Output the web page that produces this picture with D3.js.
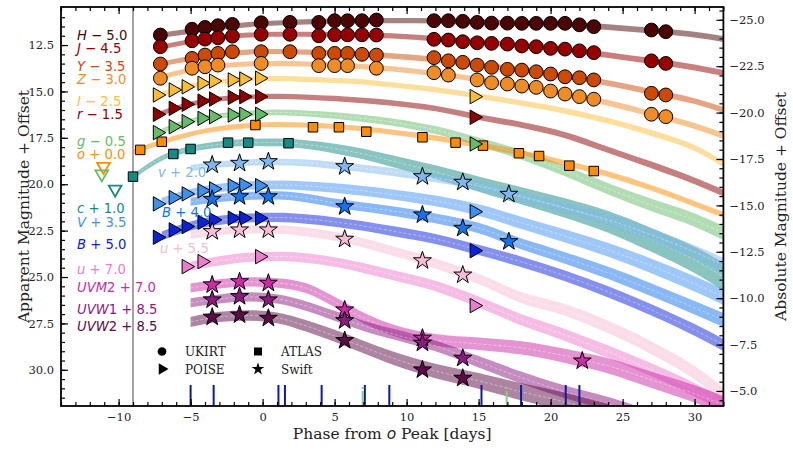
<!DOCTYPE html>
<html>
<head>
<meta charset="utf-8">
<script src="https://cdn.jsdelivr.net/npm/d3@7"></script>
<style>body{margin:0;background:#fff}</style>
</head>
<body>
<script>
// phases (days from o peak) and magnitudes + offset
var phaseGrid = [-9, -7, -5, -3, -1, 1, 3, 5, 7, 9, 12, 15, 18, 21, 24, 27, 30, 32];

var modelH = [null, 11.96, 11.75, 11.56, 11.40, 11.31, 11.25, 11.21, 11.19, 11.18, 11.20, 11.26, 11.33, 11.40, 11.53, 11.72, 11.94, 12.18];
var modelJ = [null, 12.61, 12.31, 12.10, 11.96, 11.92, 11.92, 11.94, 11.96, 12.01, 12.16, 12.34, 12.53, 12.74, 13.04, 13.36, 13.71, 14.01];
var modelY = [null, 13.52, 13.23, 13.01, 12.88, 12.85, 12.88, 12.92, 12.99, 13.09, 13.28, 13.55, 13.85, 14.17, 14.55, 15.03, 15.52, 16.00];
var modelZ = [null, 14.22, 13.85, 13.63, 13.52, 13.50, 13.52, 13.58, 13.66, 13.79, 14.04, 14.36, 14.71, 15.14, 15.62, 16.22, 16.86, 17.40];
var modelI = [null, 15.14, 14.71, 14.47, 14.33, 14.30, 14.35, 14.41, 14.49, 14.65, 14.90, 15.25, 15.62, 16.05, 16.59, 17.24, 18.05, 18.91];
var modelR = [null, 16.16, 15.68, 15.41, 15.30, 15.27, 15.30, 15.38, 15.49, 15.62, 15.92, 16.38, 16.81, 17.35, 18.15, 18.96, 19.82, 20.47];
var modelG = [null, 17.13, 16.59, 16.32, 16.19, 16.13, 16.19, 16.30, 16.46, 16.65, 17.08, 17.72, 18.42, 19.29, 20.25, 21.12, 21.93, 22.63];
var modelO = [18.26, 17.72, 17.29, 17.00, 16.84, 16.78, 16.81, 16.89, 17.02, 17.19, 17.51, 17.89, 18.32, 18.86, 19.45, 20.20, 21.06, 21.65];
var modelC = [19.61, 18.59, 18.10, 17.86, 17.75, 17.75, 17.86, 18.08, 18.37, 18.75, 19.34, 19.99, 20.63, 21.28, 22.03, 23.00, 24.08, 24.99];
var modelSv = [null, null, 19.12, 18.93, 18.83, 18.80, 18.85, 18.99, 19.15, 19.34, 19.66, 20.09, 20.69, 21.28, 21.92, 22.73, 23.65, 24.35];
var modelV = [null, 20.95, 20.47, 20.20, 20.07, 20.04, 20.09, 20.20, 20.36, 20.55, 20.90, 21.39, 22.09, 22.79, 23.54, 24.40, 25.37, 26.07];
var modelSb = [null, null, 20.95, 20.74, 20.63, 20.60, 20.74, 21.01, 21.23, 21.44, 21.84, 22.36, 23.22, 23.97, 24.78, 25.69, 26.66, 27.31];
var modelB = [null, 22.79, 22.25, 21.95, 21.82, 21.79, 21.87, 22.03, 22.25, 22.52, 22.95, 23.54, 24.19, 24.94, 25.80, 26.77, 27.85, 28.66];
var modelSu = [null, null, 22.73, 22.52, 22.44, 22.44, 22.57, 22.81, 23.16, 23.59, 24.27, 25.10, 26.12, 26.77, 27.69, 28.82, 30.16, 31.35];
var modelU = [null, null, 24.40, 24.13, 23.94, 23.89, 23.97, 24.19, 24.51, 24.89, 25.48, 26.34, 27.31, 28.12, 29.03, 30.00, 31.08, 31.89];
var modelM2 = [null, null, 25.59, 25.37, 25.26, 25.32, 25.59, 26.34, 27.20, 27.85, 28.39, 28.60, 28.82, 29.25, 29.79, 30.54, 31.30, 31.89];
var modelW1 = [null, null, 26.39, 26.18, 26.07, 26.18, 26.56, 27.09, 27.63, 28.06, 28.71, 29.57, 30.43, 31.19, 31.83, 32.59, null, null];
var modelW2 = [null, null, 27.42, 27.15, 27.07, 27.20, 27.63, 28.17, 28.77, 29.36, 30.06, 30.59, 31.19, 31.73, 32.37, null, null, null];

// UKIRT (circles)
var ukirtPhase = [-7.1, -4.9, -4.0, -3.1, -2.1, -0.1, 1.9, 3.9, 5.0, 5.9, 6.9, 7.9, 11.9, 12.9, 13.9, 14.9, 15.9, 17.0, 18.0, 19.0, 20.0, 21.0, 22.0, 23.0, 27.0, 28.0];
var ukirtH = [11.96, 11.65, 11.55, 11.46, 11.39, 11.30, 11.28, 11.28, 11.19, 11.19, 11.19, 11.15, 11.19, 11.19, 11.22, 11.28, 11.32, 11.32, 11.33, 11.33, 11.33, 11.33, 11.41, 11.51, 11.69, 11.78];
var ukirtJ = [12.59, 12.27, 12.18, 12.11, 12.02, 11.92, 11.92, 12.00, 11.95, 11.95, 11.95, 11.96, 12.19, 12.23, 12.32, 12.38, 12.41, 12.45, 12.55, 12.59, 12.68, 12.72, 12.81, 12.91, 13.35, 13.49];
var ukirtY = [13.52, 13.22, 13.04, 12.95, 12.86, 12.86, 12.86, 12.95, 12.95, 12.95, 13.00, 13.04, 13.18, 13.35, 13.43, 13.58, 13.70, 13.81, 13.85, 13.94, 14.06, 14.21, 14.26, 14.38, 15.10, 15.19];
var ukirtZ = [14.29, 13.75, 13.67, 13.58, null, 13.49, null, 13.61, 13.61, 13.61, null, 13.75, 13.99, 14.12, null, 14.38, 14.53, 14.60, 14.71, 14.78, 14.98, 15.14, 15.28, 15.42, 16.23, 16.36];

// POISE (right triangles)
var poisePhase = [-7.3, -6.2, -5.3, -4.2, -3.4, -2.1, -1.3, -0.2, 14.7];
var poiseI = [15.19, 14.92, 14.75, 14.56, 14.44, 14.38, 14.33, 14.29, 15.28];
var poiseR = [16.23, 15.91, 15.69, 15.52, 15.41, 15.32, 15.28, 15.28, 16.39];
var poiseG = [17.22, 16.90, 16.63, 16.45, 16.36, 16.27, 16.23, 16.23, 17.83];
var poiseV = [21.06, 20.72, 20.52, 20.35, 20.25, 20.08, 20.04, 20.08, 21.48];
var poiseB = [22.86, 22.46, 22.28, 22.05, 21.92, 21.83, 21.83, 21.83, 23.58];
var poiseU = [null, null, 24.44, 24.17, null, null, null, 23.90, 26.54];

// ATLAS (squares)
var atlasOPhase = [-8.5, -7.0, -0.5, 3.5, 5.3, 7.2, 11.1, 13.4, 15.3, 17.8, 19.2, 21.3, 23.0];
var atlasO = [18.15, 17.71, 16.81, 16.93, 16.93, 17.17, 17.47, 17.76, 17.92, 18.33, 18.48, 19.00, 19.29];
var atlasCPhase = [-9.0, -6.2, -5.0, -2.4, -1.0, 1.8];
var atlasC = [19.59, 18.37, 18.10, 17.76, 17.76, 17.79];

// upper limits (open down triangles): o, g, c
var limitPhase = [-11.05, -11.17, -10.24];
var limitMag = [19.05, 19.45, 20.27];

// Swift (stars)
var swiftPhase = [-3.5, -1.6, 0.4, 5.7, 11.1, 13.9, 17.1, 22.2];
var swiftV = [18.96, 18.87, 18.78, 19.05, 19.59, 19.89, 20.54, null];
var swiftB = [20.81, 20.67, 20.67, 21.21, 21.65, 22.37, 23.09, null];
var swiftU = [22.55, 22.46, 22.46, 22.96, 24.12, 24.89, null, null];
var swiftM2 = [25.42, 25.25, 25.33, 26.77, 28.29, null, null, 29.52];
var swiftW1 = [26.23, 26.05, 26.23, 27.35, 28.56, 29.37, null, null];
var swiftW2 = [27.16, 27.04, 27.22, 28.42, 30.00, 30.45, null, null];

// spectra epochs
var specBlue = [-5.0, -3.4, 1.1, 1.55, 4.1, 7.1, 8.8, 15.2, 17.95, 21.05, 22.0];
var specGreen = [6.95, 16.95];

var distMod = 36.14;

var w = 793, h = 456;
var pL = 61, pR = 723.4, pT = 7, pB = 406;

var x = d3.scaleLinear().domain([-14, 32]).range([pL, pR]);
var y = d3.scaleLinear().domain([10.45, 31.95]).range([pT, pB]);
var yAbs = d3.scaleLinear().domain([10.45 - distMod, 31.95 - distMod]).range([pT, pB]);

var svg = d3.select("body").append("svg").attr("width", w).attr("height", h);

svg.append("clipPath").attr("id", "clip")
  .append("rect").attr("x", pL).attr("y", pT).attr("width", pR - pL).attr("height", pB - pT);

var plot = svg.append("g").attr("clip-path", "url(#clip)");

// band styles
var bands = [
  {model: modelH, color: "#4b0505", w0: 5, w1: 6},
  {model: modelJ, color: "#960000", w0: 5, w1: 6},
  {model: modelY, color: "#cc4a06", w0: 5, w1: 6},
  {model: modelZ, color: "#f08c26", w0: 5, w1: 6},
  {model: modelI, color: "#fbbd35", w0: 5, w1: 6},
  {model: modelR, color: "#8e0000", w0: 5, w1: 7},
  {model: modelG, color: "#66bb6a", w0: 5, w1: 14},
  {model: modelO, color: "#ff8c00", w0: 5, w1: 6},
  {model: modelC, color: "#138a84", w0: 5, w1: 28},
  {model: modelSv, color: "#7fb7ec", w0: 6, w1: 14},
  {model: modelV, color: "#3f8fef", w0: 8, w1: 16},
  {model: modelSb, color: "#1472ea", w0: 8, w1: 14},
  {model: modelB, color: "#0a22d8", w0: 9, w1: 12},
  {model: modelSu, color: "#f8bcd4", w0: 8, w1: 14},
  {model: modelU, color: "#ec7ccc", w0: 9, w1: 14},
  {model: modelM2, color: "#cc2aa6", w0: 9, w1: 18},
  {model: modelW1, color: "#8c1a80", w0: 9, w1: 14},
  {model: modelW2, color: "#5b0c45", w0: 10, w1: 20}
];

// grey line at first detection
plot.append("line")
  .attr("x1", x(-9)).attr("x2", x(-9)).attr("y1", pT).attr("y2", pB)
  .attr("stroke", "#a3a3a3").attr("stroke-width", 2);

bands.forEach(function(b) {
  var pts = [];
  phaseGrid.forEach(function(p, i) { if (b.model[i] != null) pts.push({p: p, m: b.model[i]}); });
  var p0 = pts[0].p, p1 = pts[pts.length - 1].p;
  pts.forEach(function(d) {
    var t = (d.p - p0) / (p1 - p0);
    d.hw = (b.w0 + (b.w1 - b.w0) * Math.pow(t, 1.5)) / 2;
  });
  var area = d3.area()
    .x(function(d) { return x(d.p); })
    .y0(function(d) { return y(d.m) - d.hw; })
    .y1(function(d) { return y(d.m) + d.hw; })
    .curve(d3.curveMonotoneX);
  plot.append("path").datum(pts).attr("d", area)
    .attr("fill", b.color).attr("fill-opacity", 0.5);
  if (b.w1 > 8) {
    var line = d3.line()
      .x(function(d) { return x(d.p); })
      .y(function(d) { return y(d.m); })
      .curve(d3.curveMonotoneX);
    plot.append("path").datum(pts).attr("d", line)
      .attr("fill", "none").attr("stroke", "#fff").attr("stroke-opacity", 0.55)
      .attr("stroke-width", 0.7).attr("stroke-dasharray", "3,2");
  }
});

// spectra ticks
plot.selectAll(".specb").data(specBlue).enter().append("line")
  .attr("x1", function(d) { return x(d); }).attr("x2", function(d) { return x(d); })
  .attr("y1", pB - 21).attr("y2", pB)
  .attr("stroke", "#0d1a9e").attr("stroke-width", 2);
plot.selectAll(".specg").data(specGreen).enter().append("line")
  .attr("x1", function(d) { return x(d); }).attr("x2", function(d) { return x(d); })
  .attr("y1", pB - 19).attr("y2", pB)
  .attr("stroke", "#88cc88").attr("stroke-width", 2).attr("stroke-dasharray", "2,2,15");

// markers
var circ = d3.symbol().type(d3.symbolCircle).size(150);
var sq = d3.symbol().type(d3.symbolSquare).size(90);
var star = d3.symbol().type(d3.symbolStar).size(100);
var tri = d3.symbol().type(d3.symbolTriangle).size(90);
var triDown = d3.symbol().type(d3.symbolTriangle).size(70);

function drawMarkers(phases, mags, color, sym, rot) {
  var pts = [];
  phases.forEach(function(p, i) { if (mags[i] != null) pts.push([p, mags[i]]); });
  plot.append("g").selectAll("path").data(pts).enter().append("path")
    .attr("d", sym)
    .attr("transform", function(d) { return "translate(" + x(d[0]) + "," + y(d[1]) + ")" + (rot ? " rotate(" + rot + ")" : ""); })
    .attr("fill", color).attr("stroke", "#000").attr("stroke-width", 1);
}

drawMarkers(atlasOPhase, atlasO, "#ff8c00", sq);
drawMarkers(atlasCPhase, atlasC, "#138a84", sq);

drawMarkers(ukirtPhase, ukirtH, "#4b0505", circ);
drawMarkers(ukirtPhase, ukirtJ, "#960000", circ);
drawMarkers(ukirtPhase, ukirtY, "#cc4a06", circ);
drawMarkers(ukirtPhase, ukirtZ, "#f08c26", circ);

drawMarkers(poisePhase, poiseI, "#fbbd35", tri, 90);
drawMarkers(poisePhase, poiseR, "#8e0000", tri, 90);
drawMarkers(poisePhase, poiseG, "#66bb6a", tri, 90);
drawMarkers(poisePhase, poiseV, "#3f8fef", tri, 90);
drawMarkers(poisePhase, poiseB, "#0a22d8", tri, 90);
drawMarkers(poisePhase, poiseU, "#ec7ccc", tri, 90);

drawMarkers(swiftPhase, swiftV, "#7fb7ec", star);
drawMarkers(swiftPhase, swiftB, "#1472ea", star);
drawMarkers(swiftPhase, swiftU, "#f8bcd4", star);
drawMarkers(swiftPhase, swiftM2, "#cc2aa6", star);
drawMarkers(swiftPhase, swiftW1, "#8c1a80", star);
drawMarkers(swiftPhase, swiftW2, "#5b0c45", star);

var limitColors = ["#ff8c00", "#66bb6a", "#138a84"];
plot.append("g").selectAll("path").data(limitPhase).enter().append("path")
  .attr("d", triDown)
  .attr("transform", function(d, i) { return "translate(" + x(d) + "," + y(limitMag[i]) + ") rotate(180)"; })
  .attr("fill", "none").attr("stroke", function(d, i) { return limitColors[i]; }).attr("stroke-width", 1.8);

// band labels
var labelLetter = ["H", "J", "Y", "Z", "I", "r", "g", "o", "c", "V", "B", "u", "UVM", "UVW", "UVW"];
var labelRest = [" − 5.0", " − 4.5", " − 3.5", " − 3.0", " − 2.5", " − 1.5", " − 0.5", " + 0.0", " + 1.0", " + 3.5", " + 5.0", " + 7.0", "2 + 7.0", "1 + 8.5", "2 + 8.5"];
var labelColor = ["#4b0505", "#960000", "#cc4a06", "#f08c26", "#fbbd35", "#8e0000", "#66bb6a", "#ff8c00", "#138a84", "#3f8fef", "#0a22d8", "#ec7ccc", "#cc2aa6", "#8c1a80", "#5b0c45"];
var labelBase = [39.5, 52.5, 70.5, 84, 105.5, 119, 145.5, 158.5, 212.5, 227, 249, 274, 292, 314, 331];

var inLetter = ["v", "B", "u"];
var inRest = [" + 2.0", " + 4.0", " + 5.5"];
var inColor = ["#7fb7ec", "#1472ea", "#f8bcd4"];
var inX = [158, 162, 160];
var inBase = [177, 217, 253];

function label(tx, ty, letter, rest, color) {
  var t = svg.append("text").attr("x", tx).attr("y", ty)
    .attr("font-family", "DejaVu Sans").attr("font-size", 13.2).attr("fill", color);
  t.append("tspan").attr("font-style", "italic").text(letter);
  t.append("tspan").style("white-space", "pre").text(rest);
}
labelLetter.forEach(function(l, i) { label(77, labelBase[i], l, labelRest[i], labelColor[i]); });
inLetter.forEach(function(l, i) { label(inX[i], inBase[i], l, inRest[i], inColor[i]); });

// legend
var legendNames = ["UKIRT", "POISE", "ATLAS", "Swift"];
var legendSym = [
  d3.symbol().type(d3.symbolCircle).size(60),
  d3.symbol().type(d3.symbolTriangle).size(55),
  d3.symbol().type(d3.symbolSquare).size(64),
  d3.symbol().type(d3.symbolStar).size(50)
];
var legX = [162, 162, 258, 258], legY = [351.5, 369, 351.5, 369];
legendNames.forEach(function(n, i) {
  svg.append("path").attr("d", legendSym[i])
    .attr("transform", "translate(" + legX[i] + "," + legY[i] + ")" + (i == 1 ? " rotate(90)" : ""))
    .attr("fill", "#000");
  svg.append("text").attr("x", legX[i] + 23).attr("y", legY[i] + 4.5)
    .attr("font-family", "DejaVu Serif").attr("font-size", 12).attr("fill", "#222").text(n);
});

// axes
var fmt1 = d3.format(".1f");
function styleAxis(g) {
  g.select(".domain").remove();
  g.selectAll("line").attr("stroke", "#000").attr("stroke-width", 1.2);
  g.selectAll("text").attr("font-family", "DejaVu Serif").attr("font-size", 11.5).attr("fill", "#222");
}

svg.append("g").attr("transform", "translate(0," + pB + ")")
  .call(d3.axisBottom(x).tickValues(d3.range(-14, 33)).tickSize(-4).tickFormat(""))
  .call(styleAxis);
svg.append("g").attr("transform", "translate(0," + pB + ")")
  .call(d3.axisBottom(x).tickValues(d3.range(-10, 31, 5)).tickSize(-7).tickPadding(7).tickFormat(d3.format("d")))
  .call(styleAxis);
svg.append("g").attr("transform", "translate(0," + pT + ")")
  .call(d3.axisTop(x).tickValues(d3.range(-14, 33)).tickSize(-4).tickFormat(""))
  .call(styleAxis);
svg.append("g").attr("transform", "translate(0," + pT + ")")
  .call(d3.axisTop(x).tickValues(d3.range(-10, 31, 5)).tickSize(-7).tickFormat(""))
  .call(styleAxis);

svg.append("g").attr("transform", "translate(" + pL + ",0)")
  .call(d3.axisLeft(y).tickValues(d3.range(11, 31.9, 0.5)).tickSize(-4).tickFormat(""))
  .call(styleAxis);
svg.append("g").attr("transform", "translate(" + pL + ",0)")
  .call(d3.axisLeft(y).tickValues(d3.range(12.5, 30.1, 2.5)).tickSize(-7).tickPadding(7).tickFormat(fmt1))
  .call(styleAxis);

svg.append("g").attr("transform", "translate(" + pR + ",0)")
  .call(d3.axisRight(yAbs).tickValues(d3.range(-25.5, -4.3, 0.5)).tickSize(-4).tickFormat(""))
  .call(styleAxis);
svg.append("g").attr("transform", "translate(" + pR + ",0)")
  .call(d3.axisRight(yAbs).tickValues(d3.range(-25, -4.9, 2.5)).tickSize(-7).tickPadding(6).tickFormat(fmt1))
  .call(styleAxis);

svg.append("rect").attr("x", pL).attr("y", pT).attr("width", pR - pL).attr("height", pB - pT)
  .attr("fill", "none").attr("stroke", "#000").attr("stroke-width", 1.8);

// titles
var xt = svg.append("text").attr("x", (pL + pR) / 2).attr("y", 439)
  .attr("text-anchor", "middle").attr("font-family", "DejaVu Serif").attr("font-size", 15.5).attr("fill", "#222");
xt.append("tspan").text("Phase from ");
xt.append("tspan").attr("font-family", "DejaVu Sans").attr("font-style", "italic").text("o");
xt.append("tspan").text(" Peak [days]");

svg.append("text").attr("transform", "translate(29," + (pT + pB) / 2 + ") rotate(-90)")
  .attr("text-anchor", "middle").attr("font-family", "DejaVu Serif").attr("font-size", 15.5).attr("fill", "#222")
  .text("Apparent Magnitude + Offset");
svg.append("text").attr("transform", "translate(786," + (pT + pB) / 2 + ") rotate(-90)")
  .attr("text-anchor", "middle").attr("font-family", "DejaVu Serif").attr("font-size", 15.5).attr("fill", "#222")
  .text("Absolute Magnitude + Offset");
</script>
</body>
</html>
